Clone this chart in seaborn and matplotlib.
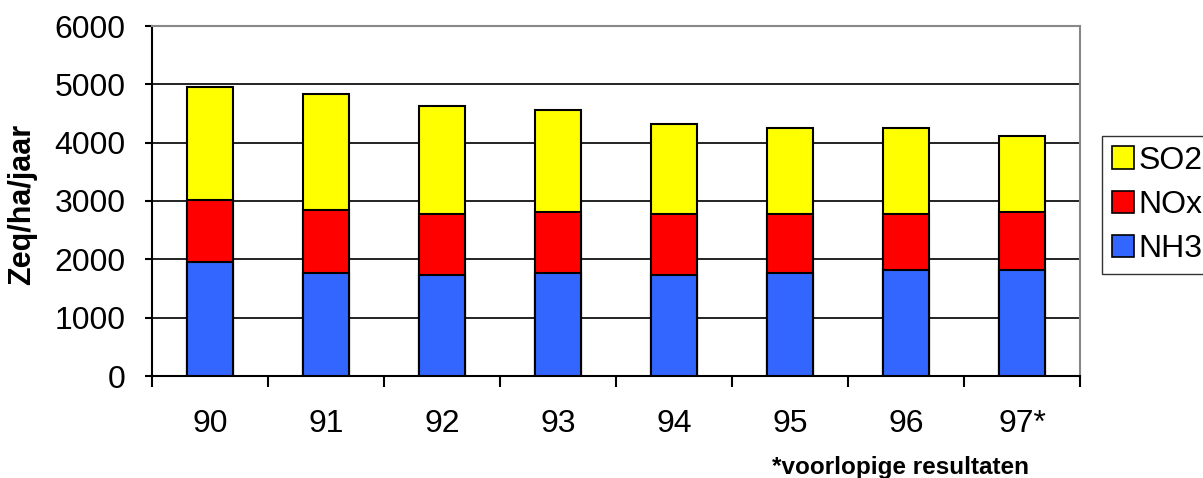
import numpy as np
import pandas as pd
import seaborn as sns
import matplotlib.pyplot as plt
from matplotlib.patches import Patch
from matplotlib.ticker import FixedLocator

# waarden (Zeq/ha/jaar)
jaren = ["90", "91", "92", "93", "94", "95", "96", "97*"]
nh3 = [1950, 1770, 1740, 1770, 1740, 1770, 1810, 1810]
nox = [1060, 1070, 1030, 1035, 1030, 1000, 960, 995]
so2 = [1950, 1995, 1855, 1750, 1545, 1475, 1475, 1305]

kleuren = {"SO2": "#FFFF00", "NOx": "#FF0000", "NH3": "#3366FF"}

df = pd.DataFrame({"jaar": jaren, "NH3": nh3, "NOx": nox, "SO2": so2})
# cumulatief, zodat de balken over elkaar getekend een stapel vormen
df["tot_nox"] = df["NH3"] + df["NOx"]
df["tot_so2"] = df["tot_nox"] + df["SO2"]

sns.set_style("white")
plt.rcParams["font.family"] = ["Liberation Sans", "DejaVu Sans"]
plt.rcParams["text.color"] = "black"
plt.rcParams["xtick.color"] = "black"
plt.rcParams["ytick.color"] = "black"
plt.rcParams["axes.labelcolor"] = "black"

fs = 23

fig = plt.figure(figsize=(12.03, 4.78), dpi=100)
ax = fig.add_axes([152 / 1203, 102 / 478, 928 / 1203, 350 / 478])

kw = dict(width=0.4, edgecolor="black", linewidth=1.5, saturation=1, zorder=3)
sns.barplot(data=df, x="jaar", y="tot_so2", color=kleuren["SO2"], ax=ax, **kw)
sns.barplot(data=df, x="jaar", y="tot_nox", color=kleuren["NOx"], ax=ax, **kw)
sns.barplot(data=df, x="jaar", y="NH3", color=kleuren["NH3"], ax=ax, **kw)

ax.set_xlim(-0.5, len(jaren) - 0.5)
ax.set_ylim(0, 6000)
ax.set_yticks(np.arange(0, 6001, 1000))
ax.yaxis.grid(True, color="#111111", linewidth=1.3, zorder=0)
ax.set_axisbelow(True)

# excel-achtige ticks tussen de categorieen
ax.xaxis.set_minor_locator(FixedLocator(np.arange(-0.5, len(jaren), 1.0)))
ax.tick_params(axis="x", which="major", length=0, pad=24, labelsize=fs)
ax.tick_params(axis="x", which="minor", length=8, width=1.5, color="black",
               direction="out", bottom=True)
ax.tick_params(axis="y", length=5, width=1.5, color="black", direction="out",
               left=True, pad=14, labelsize=fs)

for s in ["left", "bottom"]:
    ax.spines[s].set_color("black")
    ax.spines[s].set_linewidth(1.5)
for s in ["top", "right"]:
    ax.spines[s].set_color("#888888")
    ax.spines[s].set_linewidth(1.5)

ax.set_xlabel("")
ax.set_ylabel("Zeq/ha/jaar", fontsize=22, fontweight="bold")
ax.yaxis.set_label_coords(-0.124, 0.49)

handles = [Patch(facecolor=kleuren[k], edgecolor="black", linewidth=1.2, label=k)
           for k in ["SO2", "NOx", "NH3"]]
fig.legend(handles=handles, loc="upper left",
           bbox_to_anchor=(1102 / 1203, 1 - 136 / 478),
           fontsize=fs, frameon=True, fancybox=False, edgecolor="black",
           handlelength=0.7, handleheight=0.7, handletextpad=0.15,
           labelspacing=0.45, borderpad=0.3, borderaxespad=0)

fig.text(900 / 1203, 4 / 478, "*voorlopige resultaten", ha="center",
         va="baseline", fontsize=17.5, fontweight="bold")

fig.savefig("out.png", dpi=100)
